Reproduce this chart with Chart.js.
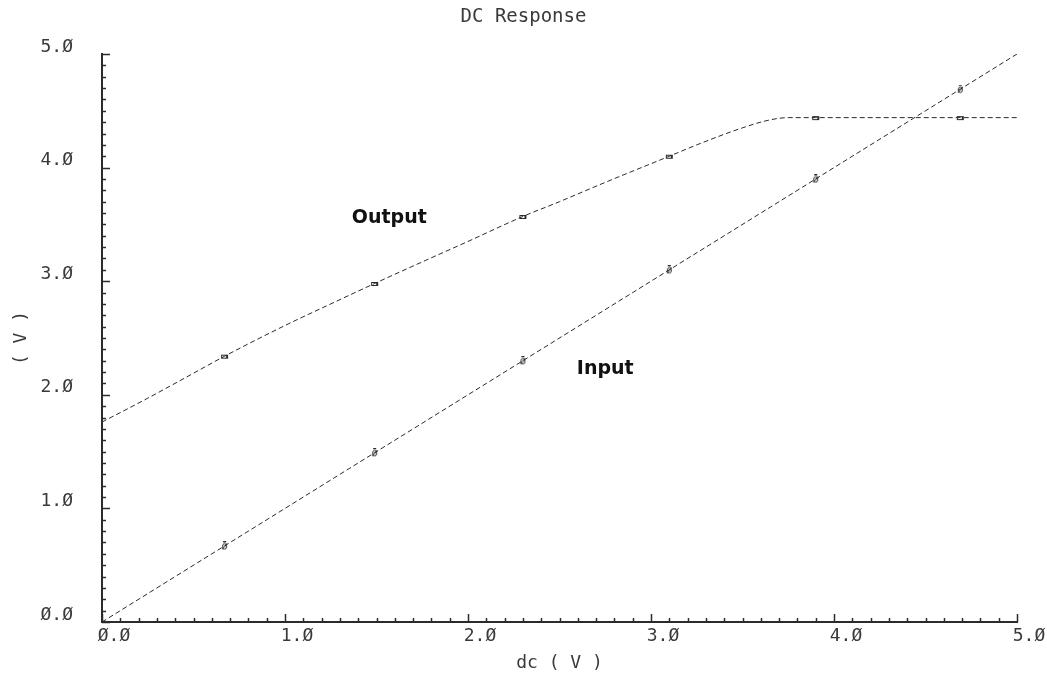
<!DOCTYPE html>
<html>
<head>
<meta charset="utf-8">
<title>DC Response</title>
<script src="https://cdn.jsdelivr.net/npm/chart.js@4.4.1/dist/chart.umd.min.js"></script>
<style>
  html, body { margin: 0; padding: 0; background: #fff; }
  #wrap { width: 1047px; height: 675px; }
</style>
</head>
<body>
<div id="wrap"><canvas id="dcChart" width="1047" height="675"></canvas></div>
<script>
// sweep points of the dc source (V)
const inputX = [0, 0.67, 1.49, 2.3, 3.1, 3.9, 4.69, 5.0]
const inputY = [0, 0.67, 1.49, 2.3, 3.1, 3.9, 4.69, 5.0]

const outputX = [0, 0.25, 0.5, 0.67, 1.0, 1.25, 1.49, 1.75, 2.0, 2.3, 2.5, 2.75, 3.1, 3.25, 3.5, 3.65, 3.75, 3.9, 4.69, 5.0]
const outputY = [1.76, 1.97, 2.19, 2.34, 2.61, 2.80, 2.98, 3.17, 3.35, 3.57, 3.70, 3.87, 4.10, 4.20, 4.35, 4.42, 4.44, 4.44, 4.44, 4.44]

// where the trace markers sit
const markerX = [0.67, 1.49, 2.3, 3.1, 3.9, 4.69]

const tickValues = [0, 1, 2, 3, 4, 5]

// trace names written next to the curves
const traceLabels = [
    { text: "Output", x: 1.57, y: 3.56 },
    { text: "Input", x: 2.75, y: 2.23 }
]

const chartTitle = "DC Response"

const ink = "#2b2b2b"
const textInk = "#3a3a3a"
const monoFont = "'DejaVu Sans Mono'"

/**
 * Small canvas used as point style
 *
 * @param {string} kind "input" or "output"
 */
function makeMarker(kind) {
    const c = document.createElement("canvas")
    c.width = 9
    c.height = 9
    const g = c.getContext("2d")
    g.strokeStyle = ink
    g.lineWidth = 1
    if (kind === "input") {
        g.beginPath()
        g.ellipse(4.5, 5, 2, 2.8, 0, 0, Math.PI * 2)
        g.stroke()
        g.beginPath()
        g.moveTo(2, 8)
        g.lineTo(7, 2)
        g.stroke()
        g.beginPath()
        g.moveTo(3, 0.5)
        g.lineTo(6, 0.5)
        g.stroke()
    } else {
        g.strokeRect(1.5, 3.5, 5, 3)
        g.beginPath()
        g.moveTo(7.5, 3)
        g.lineTo(7.5, 7)
        g.stroke()
    }
    return c
}

const inputMarker = makeMarker("input")
const outputMarker = makeMarker("output")

function toPoints(xs, ys) {
    let pts = []
    for (let i = 0; i < xs.length; i++)
        pts.push({ x: xs[i], y: ys[i] })
    return pts
}

function isMarker(ctx) {
    const x = ctx.raw ? ctx.raw.x : null
    return markerX.includes(x)
}

function fmtTick(v) {
    return v.toFixed(1).replace(/0/g, "Ø")
}

// minor and major ticks pointing into the plot
const innerTicks = {
    id: "innerTicks",
    afterDraw(chart) {
        const { ctx, chartArea, scales } = chart
        ctx.save()
        ctx.strokeStyle = ink
        ctx.lineWidth = 1.5
        for (let i = 0; i <= 50; i++) {
            const v = i / 10
            const len = i % 10 === 0 ? 8 : 4
            const px = Math.round(scales.x.getPixelForValue(v)) + 0.5
            ctx.beginPath()
            ctx.moveTo(px, chartArea.bottom)
            ctx.lineTo(px, chartArea.bottom - len)
            ctx.stroke()
            const py = Math.round(scales.y.getPixelForValue(v)) + 0.5
            ctx.beginPath()
            ctx.moveTo(chartArea.left, py)
            ctx.lineTo(chartArea.left + len, py)
            ctx.stroke()
        }
        ctx.restore()
    }
}

// curve names and the heading, centred on the whole canvas
const traceNames = {
    id: "traceNames",
    afterDatasetsDraw(chart) {
        const { ctx, scales } = chart
        ctx.save()
        ctx.textAlign = "center"
        ctx.textBaseline = "middle"
        ctx.fillStyle = textInk
        ctx.font = "19px " + monoFont
        ctx.fillText(chartTitle, chart.width / 2, 17)
        ctx.fillStyle = "#111"
        ctx.font = "bold 19px 'DejaVu Sans'"
        traceLabels.forEach(l => {
            ctx.fillText(l.text, scales.x.getPixelForValue(l.x), scales.y.getPixelForValue(l.y))
        })
        ctx.restore()
    }
}

const lineStyle = {
    borderColor: ink,
    borderWidth: 1,
    borderDash: [5, 3],
    fill: false,
    tension: 0,
    pointBorderWidth: 0,
    pointHoverRadius: 0
}

new Chart(document.getElementById("dcChart"), {
    type: "line",
    data: {
        datasets: [
            {
                ...lineStyle,
                label: "Input",
                data: toPoints(inputX, inputY),
                pointStyle: inputMarker,
                pointRadius: ctx => isMarker(ctx) ? 4 : 0
            },
            {
                ...lineStyle,
                label: "Output",
                data: toPoints(outputX, outputY),
                cubicInterpolationMode: "monotone",
                pointStyle: outputMarker,
                pointRadius: ctx => isMarker(ctx) ? 4 : 0
            }
        ]
    },
    options: {
        responsive: false,
        animation: false,
        devicePixelRatio: 1,
        layout: { padding: { left: 0, right: 30, top: 54, bottom: 0 } },
        plugins: {
            legend: { display: false },
            tooltip: { enabled: false },
            title: { display: false }
        },
        scales: {
            x: {
                type: "linear",
                min: 0,
                max: 5,
                afterBuildTicks: s => { s.ticks = tickValues.map(v => ({ value: v })) },
                afterFit: s => { s.height = 53 },
                grid: { drawOnChartArea: false, drawTicks: false },
                border: { display: true, color: ink, width: 2 },
                ticks: {
                    color: textInk,
                    font: { family: monoFont, size: 18 },
                    padding: 4,
                    labelOffset: 12,
                    maxRotation: 0,
                    callback: v => fmtTick(v)
                },
                title: {
                    display: true,
                    text: "dc ( V )",
                    color: textInk,
                    font: { family: monoFont, size: 18 },
                    padding: { top: 0, bottom: 1 }
                }
            },
            y: {
                type: "linear",
                min: 0,
                max: 5,
                afterBuildTicks: s => { s.ticks = tickValues.map(v => ({ value: v })) },
                afterFit: s => { s.width = 102 },
                grid: { drawOnChartArea: false, drawTicks: false },
                border: { display: true, color: ink, width: 2 },
                ticks: {
                    color: textInk,
                    font: { family: monoFont, size: 18 },
                    padding: 29,
                    labelOffset: -7,
                    callback: v => fmtTick(v)
                },
                title: {
                    display: true,
                    text: "( V )",
                    color: textInk,
                    font: { family: monoFont, size: 18 },
                    padding: { top: 11, bottom: 0 }
                }
            }
        }
    },
    plugins: [innerTicks, traceNames]
})
</script>
</body>
</html>
